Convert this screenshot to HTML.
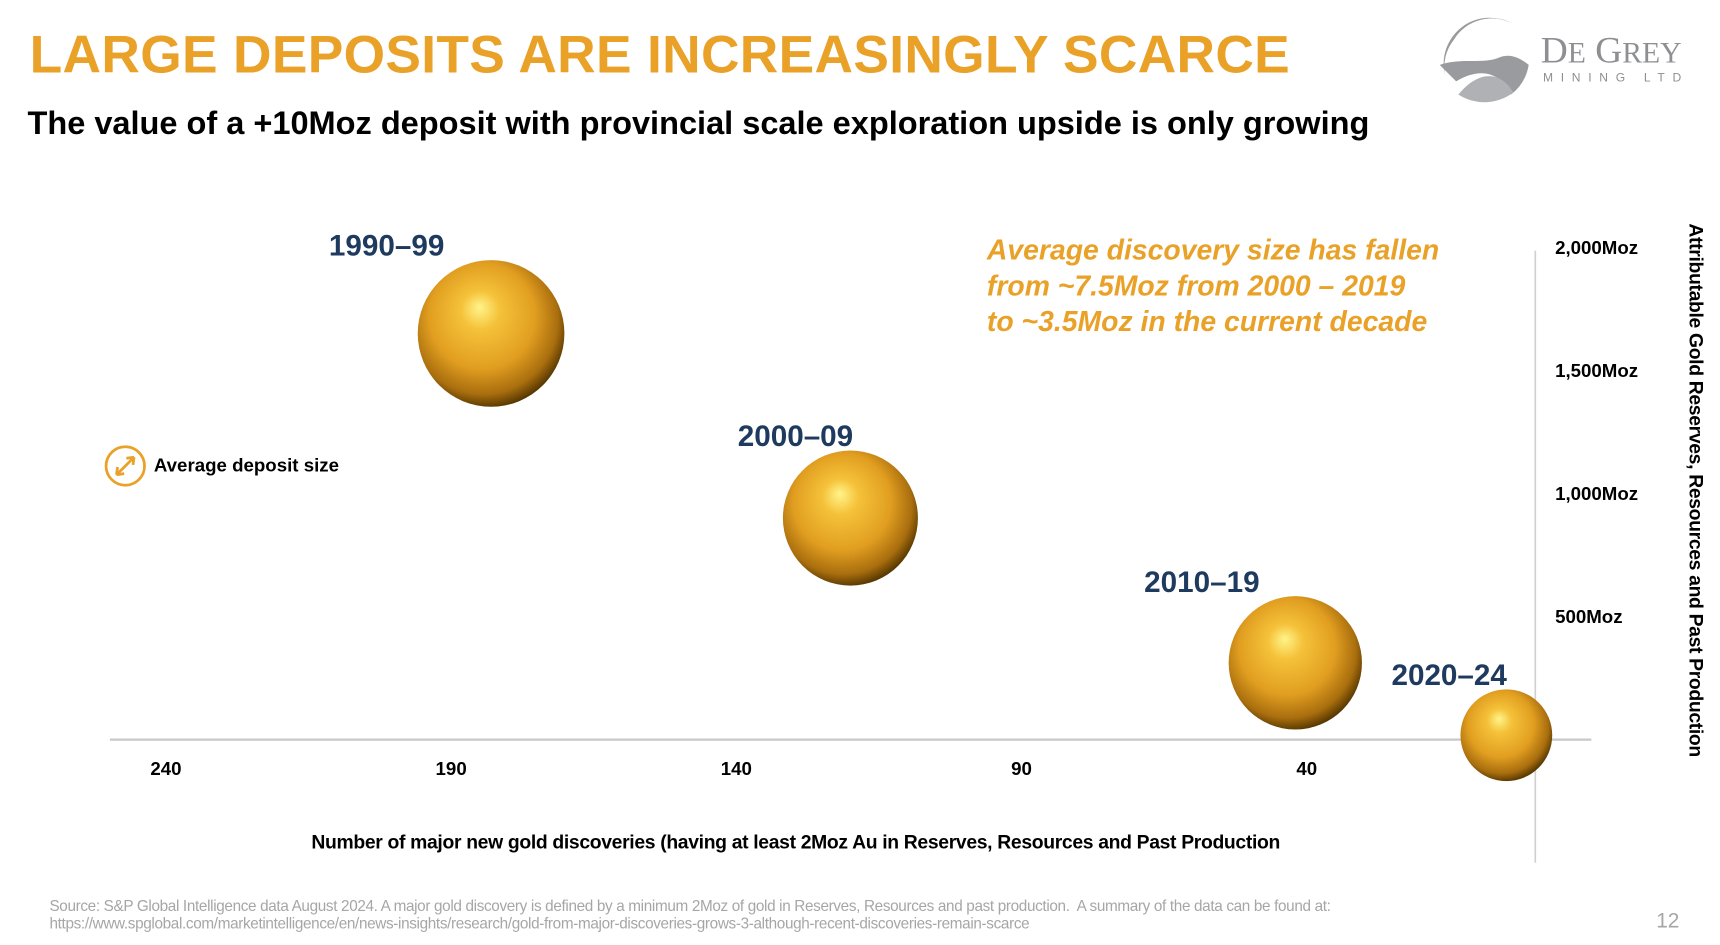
<!DOCTYPE html>
<html><head><meta charset="utf-8">
<style>
html,body{margin:0;padding:0;background:#fff;width:1720px;height:945px;overflow:hidden}
#wrap{position:absolute;left:0;top:0;width:1565px;height:860px;transform:scale(1.0990);transform-origin:0 0;font-family:"Liberation Sans",sans-serif}
.abs{position:absolute;white-space:nowrap}
</style></head><body>
<div id="wrap">
<div class="abs" style="left:27px;top:22px;font-size:48.5px;font-weight:bold;color:#E9A128;letter-spacing:0.3px">LARGE DEPOSITS ARE INCREASINGLY SCARCE</div>
<div class="abs" style="left:25px;top:96px;font-size:29.6px;font-weight:bold;color:#000">The value of a +10Moz deposit with provincial scale exploration upside is only growing</div>
<div class="abs" style="left:1305px;top:14px;width:240px;height:80px">
<svg width="240" height="80"><path d="M10,55 A42,42 0 0 1 72,8 A40,40 0 0 0 18,22 A40,40 0 0 0 10,55Z" fill="#9a9b9e"/><path d="M5,45 C25,38 45,45 60,38 C70,34 80,40 86,45 A43,43 0 0 1 70,72 C62,55 45,45 20,60 Z" fill="#9a9b9e"/><path d="M22,72 C40,50 60,50 72,70 A43,43 0 0 1 22,72Z" fill="#b0b1b4"/></svg>
<div class="abs" style="left:97px;top:14px;font-family:'Liberation Serif',serif;font-size:34px;color:#8e8f92">D<span style="font-size:27px">E</span> G<span style="font-size:27px">REY</span></div>
<div class="abs" style="left:99px;top:51px;font-size:11px;color:#8e8f92;letter-spacing:7px">MINING LTD</div>
</div>
<svg id="chart" class="abs" style="left:0;top:0" width="1565" height="860">
<defs>
<radialGradient id="gold" cx="0.45" cy="0.42" r="0.6" fx="0.42" fy="0.32">
<stop offset="0" stop-color="#FFF48A"/>
<stop offset="0.22" stop-color="#F5C23A"/>
<stop offset="0.6" stop-color="#E19E20"/>
<stop offset="0.85" stop-color="#A96E0E"/>
<stop offset="1" stop-color="#4E3200"/>
</radialGradient>
</defs>
<g id="axes"></g><g id="bubbles"></g>
</svg>
<div class="abs" style="left:898px;top:212px;font-size:25.8px;line-height:32.5px;font-weight:bold;font-style:italic;color:#E9A128">Average discovery size has fallen<br>from ~7.5Moz from 2000 – 2019<br>to ~3.5Moz in the current decade</div>
<div class="abs" style="left:95px;top:405px">
<svg width="40" height="40"><circle cx="19" cy="19" r="17.5" fill="none" stroke="#E9A128" stroke-width="2.5"/><line x1="11" y1="27" x2="27" y2="11" stroke="#E9A128" stroke-width="2.5"/><path d="M27,11 l-7,1 M27,11 l-1,7 M11,27 l7,-1 M11,27 l1,-7" stroke="#E9A128" stroke-width="2.5"/></svg>
<div class="abs" style="left:45px;top:9px;font-size:17px;font-weight:bold">Average deposit size</div>
</div>
<div class="abs" style="left:724px;top:756px;transform:translateX(-50%);font-size:17.6px;font-weight:bold;letter-spacing:-0.3px">Number of major new gold discoveries (having at least 2Moz Au in Reserves, Resources and Past Production</div>
<div class="abs" style="left:1543px;top:446px;transform:translate(-50%,-50%) rotate(90deg);font-size:17.6px;font-weight:bold;letter-spacing:-0.3px">Attributable Gold Reserves, Resources and Past Production</div>
<div class="abs" style="left:45px;top:816px;font-size:13.9px;line-height:16px;color:#a6a6a6;letter-spacing:-0.3px">Source: S&amp;P Global Intelligence data August 2024. A major gold discovery is defined by a minimum 2Moz of gold in Reserves, Resources and past production.&nbsp; A summary of the data can be found at:<br>https://www.spglobal.com/marketintelligence/en/news-insights/research/gold-from-major-discoveries-grows-3-although-recent-discoveries-remain-scarce</div>
<div class="abs" style="left:1507px;top:828px;font-size:19px;color:#a6a6a6">12</div>
</div>
<script>
const decades = ["1990–99","2000–09","2010–19","2020–24"];
const discoveries = [183, 120, 42, 5];
const reservesMoz = [1650, 900, 312, 18];
const avgSizeMoz = [9.2, 7.8, 7.6, 3.6];
const xTicks = [240, 190, 140, 90, 40];
const yTicks = [2000, 1500, 1000, 500];
const yTickLabels = ["2,000Moz","1,500Moz","1,000Moz","500Moz"];
const labelDx = [-95, -50, -85, -52];

const NS = "http://www.w3.org/2000/svg";
const X = v => 151 + (240 - v) * 5.19;
const Y = v => 673 - v * 0.224;
const R = s => 22 * Math.sqrt(s);
function mk(tag, attrs, parent, text){const e=document.createElementNS(NS,tag);for(const k in attrs)e.setAttribute(k,attrs[k]);if(text!=null)e.textContent=text;parent.appendChild(e);return e;}
const axes = document.getElementById('axes');
const bub = document.getElementById('bubbles');
let xl = mk('line',{x1:100,y1:Y(0),x2:1448,y2:Y(0),stroke:'#c8c8c8','stroke-width':2},axes);


let yl = mk('line',{x1:1397,y1:228,x2:1397,y2:785,stroke:'#d0d0d0','stroke-width':1.5},axes);


xTicks.forEach(t=>{
  const e = mk('text',{x:X(t),y:705,'text-anchor':'middle','font-size':17,'font-weight':'bold','font-family':'Liberation Sans, sans-serif'},axes,String(t));
  
  
});
yTicks.forEach((t,i)=>{
  const e = mk('text',{x:1415,y:Y(t)+6,'font-size':17,'font-weight':'bold','font-family':'Liberation Sans, sans-serif'},axes,yTickLabels[i]);
  
  
});
decades.forEach((d,i)=>{
  const cx=X(discoveries[i]), cy=Y(reservesMoz[i]), r=R(avgSizeMoz[i]);
  const c = mk('circle',{cx:cx,cy:cy,r:r,fill:'url(#gold)'},bub);
  
  
  const t = mk('text',{x:cx+labelDx[i],y:cy-r-4,'text-anchor':'middle','font-size':27,'font-weight':'bold',fill:'#1F3A5F','font-family':'Liberation Sans, sans-serif'},bub,d);
  
  
});
</script>
</body></html>
